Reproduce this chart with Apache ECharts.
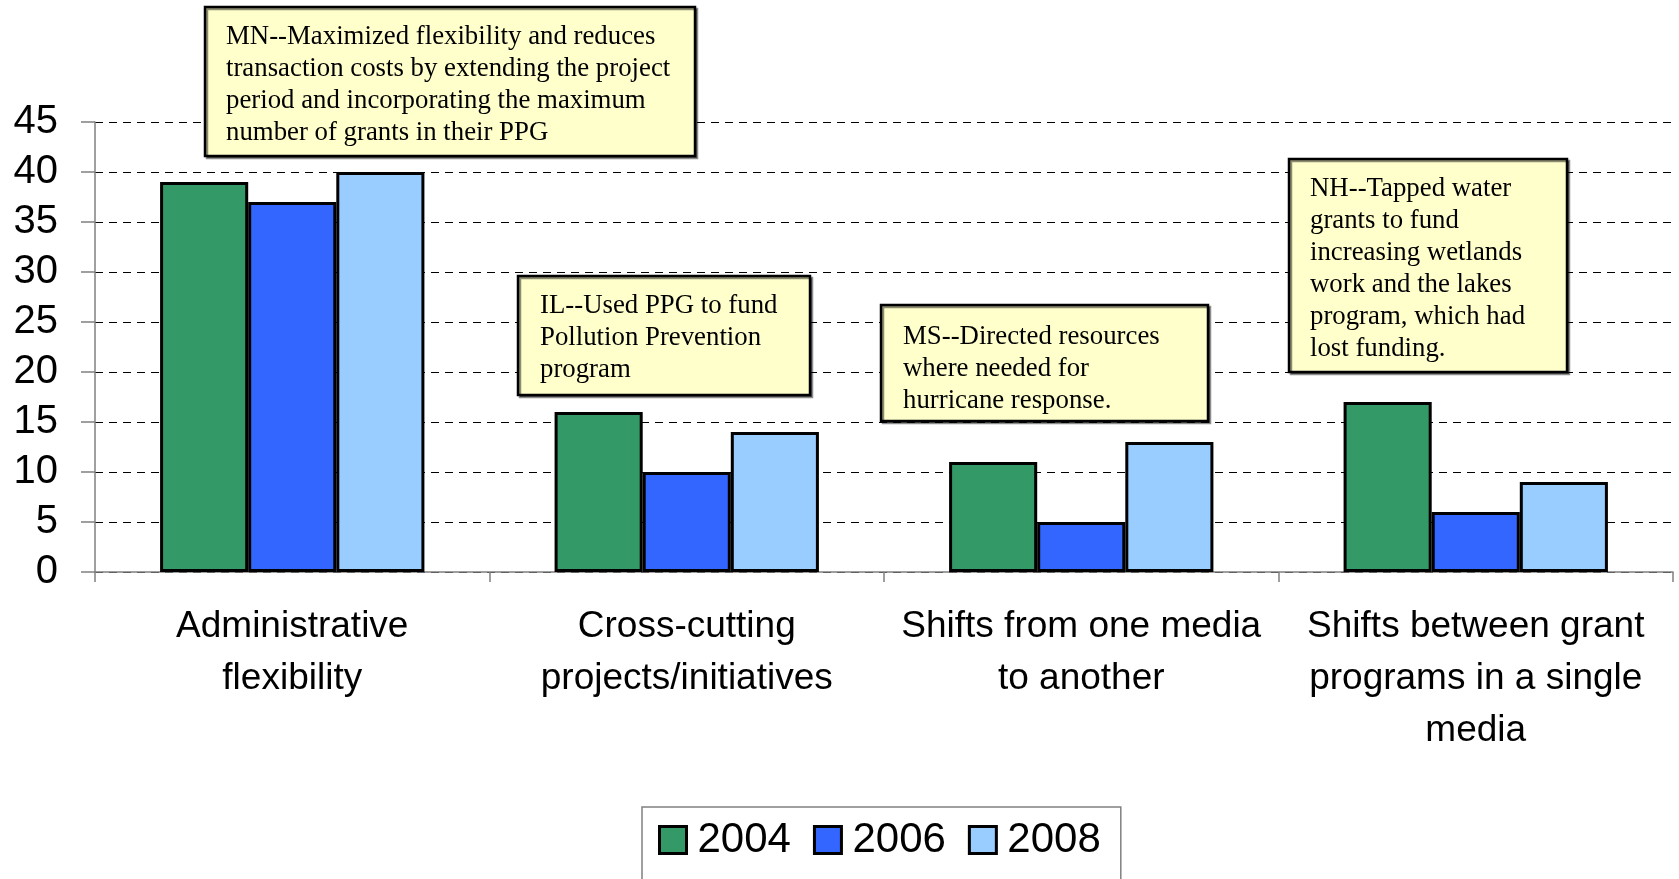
<!DOCTYPE html>
<html>
<head>
<meta charset="utf-8">
<script src="https://cdn.jsdelivr.net/npm/echarts@6/dist/echarts.min.js"></script>
<style>
html,body{margin:0;padding:0;background:#fff;}
#chart{width:1679px;height:879px;}
</style>
</head>
<body>
<div id="chart"></div>
<script>
const categories = [
  'Administrative\nflexibility',
  'Cross-cutting\nprojects/initiatives',
  'Shifts from one media\nto another',
  'Shifts between grant\nprograms in a single\nmedia'
];
const seriesNames = ['2004', '2006', '2008'];
const values2004 = [39, 16, 11, 17];
const values2006 = [37, 10, 5, 6];
const values2008 = [40, 14, 13, 9];
const seriesColors = ['#339966', '#3366FF', '#99CCFF'];
const yTicks = { min: 0, max: 45, interval: 5 };

const notes = [
  { text: 'MN--Maximized flexibility and reduces\ntransaction costs by extending the project\nperiod and incorporating the maximum\nnumber of grants in their PPG', box: [205, 7, 490, 149], pad: [21, 14] },
  { text: 'IL--Used PPG to fund\nPollution Prevention\nprogram', box: [518, 276, 292, 119], pad: [22, 14] },
  { text: 'MS--Directed resources\nwhere needed for\nhurricane response.', box: [881, 305, 327, 116], pad: [22, 16] },
  { text: 'NH--Tapped water\ngrants to fund\nincreasing wetlands\nwork and the lakes\nprogram, which had\nlost funding.', box: [1289, 159, 278, 213], pad: [21, 14] }
];

const chart = echarts.init(document.getElementById('chart'));
const allValues = [values2004, values2006, values2008];

const graphics = [];
notes.forEach(n => {
  graphics.push({
    type: 'rect',
    shape: { x: n.box[0], y: n.box[1], width: n.box[2], height: n.box[3] },
    style: { fill: '#FFFFCC', stroke: '#000', lineWidth: 2.5, shadowColor: 'rgba(0,0,0,0.45)', shadowOffsetX: 2, shadowOffsetY: 2, shadowBlur: 0 },
    z: 100
  });
  graphics.push({
    type: 'text',
    x: n.box[0] + n.pad[0],
    y: n.box[1] + n.pad[1],
    style: {
      text: n.text,
      font: '26.8px "Liberation Serif", "Times New Roman", serif',
      fill: '#000',
      lineHeight: 32,
      verticalAlign: 'top'
    },
    z: 101
  });
});

chart.setOption({
  animation: false,
  backgroundColor: '#fff',
  grid: { left: 95, right: 6, top: 122, bottom: 307, containLabel: false },
  legend: {
    data: seriesNames,
    left: 642,
    top: 807,
    orient: 'horizontal',
    itemWidth: 27,
    itemHeight: 27,
    itemGap: 22,
    padding: [10, 20, 40, 16],
    borderColor: '#808080',
    borderWidth: 1.5,
    icon: 'rect',
    itemStyle: { borderColor: '#000', borderWidth: 3 },
    textStyle: { fontSize: 42, fontFamily: '"Liberation Sans", Arial, sans-serif', color: '#000', padding: [0, 0, 0, 6], lineHeight: 46 }
  },
  xAxis: {
    type: 'category',
    data: categories,
    axisLine: { lineStyle: { color: '#808080', width: 1.5 } },
    axisTick: { show: true, length: 10, lineStyle: { color: '#808080', width: 1.5 } },
    axisLabel: {
      interval: 0,
      margin: 29,
      fontSize: 37,
      lineHeight: 52,
      color: '#000',
      fontFamily: '"Liberation Sans", Arial, sans-serif'
    },
    splitLine: { show: false }
  },
  yAxis: {
    type: 'value',
    min: yTicks.min,
    max: yTicks.max,
    interval: yTicks.interval,
    axisLine: { show: true, lineStyle: { color: '#808080', width: 1.5 } },
    axisTick: { show: true, length: 14, lineStyle: { color: '#808080', width: 1.5 } },
    axisLabel: { margin: 37, fontSize: 40, color: '#000', fontFamily: '"Liberation Sans", Arial, sans-serif' },
    splitLine: { show: true, lineStyle: { color: '#000', width: 1, type: [8, 6] } }
  },
  series: seriesNames.map((name, i) => ({
    name: name,
    type: 'bar',
    data: allValues[i],
    barGap: '0%',
    barCategoryGap: '33%',
    itemStyle: { color: seriesColors[i], borderColor: '#000', borderWidth: 3 }
  })),
  graphic: graphics
});
</script>
</body>
</html>
